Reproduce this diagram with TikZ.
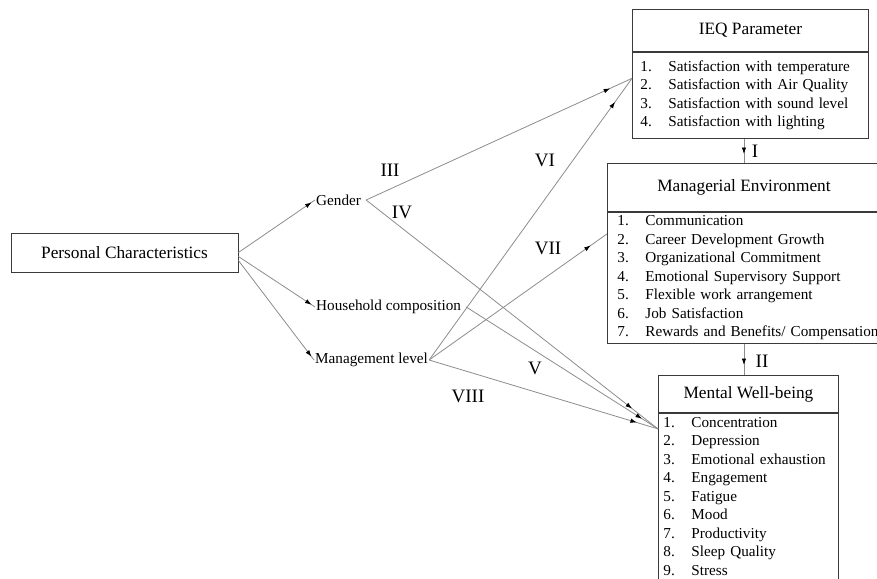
\documentclass[tikz,border=0pt]{standalone}
\usepackage{fontspec}
\setmainfont{Liberation Serif}
\usetikzlibrary{positioning}
\usetikzlibrary{arrows.meta}
\usetikzlibrary{decorations.markings}
\definecolor{LineGray}{HTML}{8C8C8C}
\definecolor{BoxGray}{HTML}{3A3A3A}
\newcommand{\itm}[2]{\mbox{\makebox[28pt][l]{#1}#2}}
\tikzset{
  titlebox/.style={draw=BoxGray,line width=0.9pt,minimum height=#1,inner sep=0pt,
    font=\fontsize{17.3}{20}\selectfont},
  listbox/.style={draw=BoxGray,line width=0.9pt,align=left,
    font=\fontsize{15.2}{18.5}\selectfont},
  factor/.style={inner sep=1pt,font=\fontsize{15.2}{18}\selectfont},
  hyp/.style={inner sep=0pt,font=\fontsize{19}{22}\selectfont},
  link/.style={draw=LineGray,line width=0.8pt,postaction={decorate},
    decoration={markings,mark=at position -#1 with {\arrow[black]{Latex[length=6.5pt,width=4.5pt]}}}}
}

\begin{document}
\begin{tikzpicture}[x=1pt,y=-1pt]
  \useasboundingbox (0,0) rectangle (877,578);

  % outcome boxes
  \node[titlebox=42pt,minimum width=236pt,anchor=north west] (ieqT) at (632,9) {IEQ Parameter};
  \node[listbox,below=0pt of ieqT,text width=220pt,inner xsep=8pt,minimum height=86pt] (ieqL) {%
    \itm{1.}{Satisfaction with temperature}\\
    \itm{2.}{Satisfaction with Air Quality}\\
    \itm{3.}{Satisfaction with sound level}\\
    \itm{4.}{Satisfaction with lighting}};

  \node[titlebox=48pt,minimum width=273pt,anchor=north west] (manT) at (607,163) {Managerial Environment};
  \node[listbox,below=0pt of manT,text width=253pt,inner xsep=10pt,inner ysep=1pt,minimum height=131pt] (manL) {%
    \itm{1.}{Communication}\\
    \itm{2.}{Career Development Growth}\\
    \itm{3.}{Organizational Commitment}\\
    \itm{4.}{Emotional Supervisory Support}\\
    \itm{5.}{Flexible work arrangement}\\
    \itm{6.}{Job Satisfaction}\\
    \itm{7.}{Rewards and Benefits/ Compensation}};

  \node[titlebox=37pt,minimum width=180pt,anchor=north west] (mwT) at (658,375) {Mental Well-being};
  \node[listbox,below=0pt of mwT,text width=170pt,inner xsep=5pt,inner ysep=4pt] (mwL) {%
    \itm{1.}{Concentration}\\
    \itm{2.}{Depression}\\
    \itm{3.}{Emotional exhaustion}\\
    \itm{4.}{Engagement}\\
    \itm{5.}{Fatigue}\\
    \itm{6.}{Mood}\\
    \itm{7.}{Productivity}\\
    \itm{8.}{Sleep Quality}\\
    \itm{9.}{Stress}\\
    \rule{0pt}{0pt}};

  % personal characteristics
  \node[draw=BoxGray,line width=0.9pt,minimum width=227pt,minimum height=39pt,
    font=\fontsize{17.3}{20}\selectfont] (pc) at (124.5,252.5) {Personal Characteristics};
  \node[factor,anchor=west] (gender) at (315,200) {Gender};
  \node[factor,anchor=west] (household) at (315,307) {Household composition};
  \node[factor,anchor=west] (mgmt) at (314,360) {Management level};

  \coordinate (ieqin) at ([yshift=17pt]ieqL.west);
  \coordinate (manin) at ([yshift=-22pt]manL.north west);
  \coordinate (mwin)  at ([yshift=-16pt]mwL.north west);

  \draw[link=4pt] (pc.east) -- (gender.west);
  \draw[link=4pt] ([yshift=-4pt]pc.east) -- (household.west);
  \draw[link=4pt] ([yshift=-8pt]pc.east) -- (mgmt.west);

  \draw[link=24pt] ([xshift=4pt]gender.east) -- (ieqin);
  \draw[link=33pt] ([xshift=4pt]gender.east) -- (mwin);
  \draw[link=19pt] ([xshift=4pt]household.east) -- (mwin);
  \draw[link=29pt] (mgmt.east) -- (ieqin);
  \draw[link=20pt] (mgmt.east) -- (manin);
  \draw[link=22pt] (mgmt.east) -- (mwin);
  \draw[link=9pt] (manT.north |- ieqL.south) -- (manT.north);
  \draw[link=10pt] (manL.south) -- (manL.south |- mwT.north);

  \foreach \lab/\x/\y in {I/755/151,II/762/361,III/390/170,IV/402/212,
                          V/535/368,VI/545/160,VII/548/248,VIII/468/396}{%
    \node[hyp] (h\lab) at (\x,\y) {\lab};
  }
\end{tikzpicture}
\end{document}
